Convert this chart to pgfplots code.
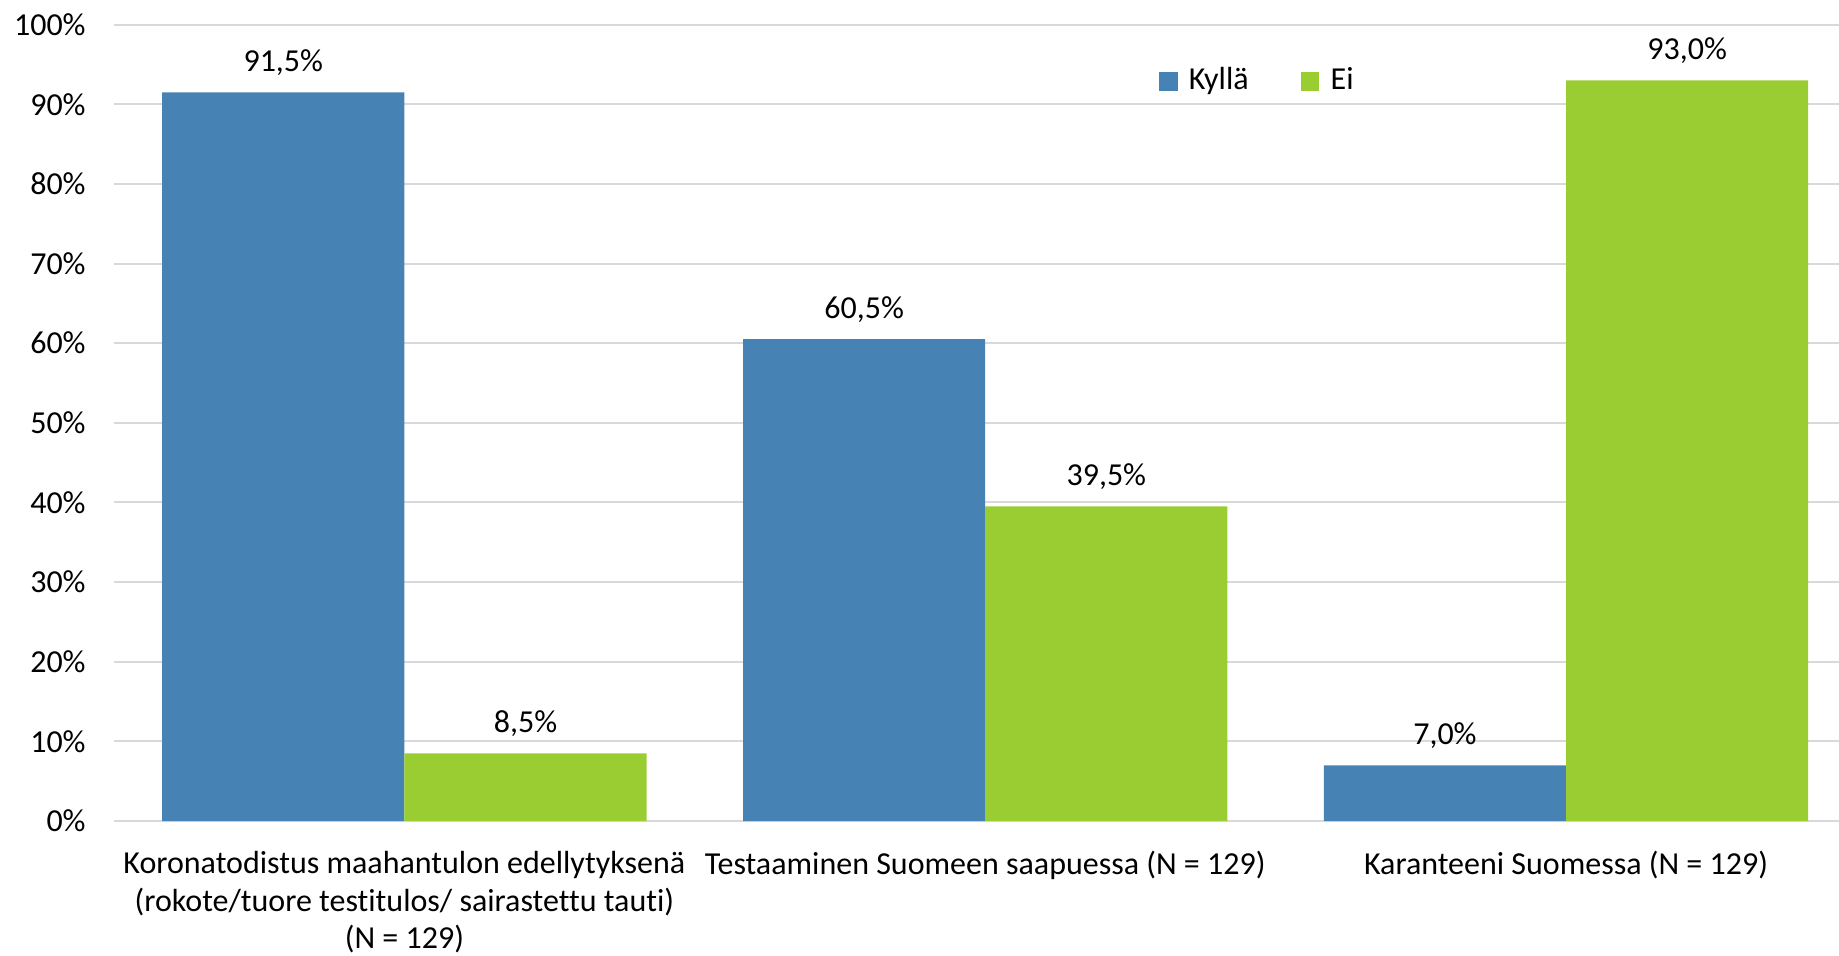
\documentclass[border=0pt]{standalone}
\usepackage{fontspec}
\setmainfont{Carlito}[Ligatures={NoCommon}]
\usepackage{pgfplots}
\pgfplotsset{compat=1.18}

\definecolor{kylla}{HTML}{4682B4}
\definecolor{ei}{HTML}{9ACD32}
\definecolor{gridgray}{HTML}{D9D9D9}

\begin{document}
\fontsize{16pt}{18.8pt}\selectfont
\begin{tikzpicture}
\begin{axis}[
  scale only axis,
  width=862.5pt, height=398.2pt,
  ybar=0pt, bar width=0.417,
  xmin=-0.5, xmax=2.47,
  ymin=0, ymax=100,
  xtick={0,1,2},
  xticklabels={{Koronatodistus maahantulon edellytyksenä\\(rokote/tuore testitulos/ sairastettu tauti)\\(N = 129)},
               {Testaaminen Suomeen saapuessa (N = 129)},
               {Karanteeni Suomessa (N = 129)}},
  ytick={0,10,...,100},
  yticklabel={\pgfmathprintnumber{\tick}\%},
  /pgf/number format/assume math mode=true,
  major tick length=0pt,
  axis lines*=left,
  y axis line style={draw=none},
  x axis line style={draw=gridgray, line width=1.2pt, -},
  ymajorgrids, grid style={gridgray, line width=1pt},
  yticklabel style={inner sep=0pt, xshift=-14pt, font=\fontsize{16pt}{18pt}\selectfont},
  xticklabel style={align=center, anchor=north, inner sep=0pt, yshift=-15pt,
                    font=\fontsize{16pt}{18.8pt}\selectfont},
  nodes near coords={\pgfmathprintnumber[fixed,fixed zerofill,precision=1,use comma]{\pgfplotspointmeta}\%},
  every node near coord/.append style={anchor=south, inner sep=0pt, yshift=8pt, text=black,
                    font=\fontsize{16pt}{18pt}\selectfont},
  legend columns=2,
  legend style={at={(0.602,0.929)}, anchor=west, draw=none, fill=none,
                font=\fontsize{16pt}{18pt}\selectfont,
                /tikz/every even column/.append style={column sep=24pt}},
  legend image code/.code={\fill[#1] (0pt,-4.7pt) rectangle (9.4pt,4.7pt); \path (13pt,0pt);},
]
\addplot[fill=kylla, draw=none] coordinates {(0,91.5) (1,60.5) (2,7.0)};
\addlegendentry{Kyllä}
\addplot[fill=ei, draw=none] coordinates {(0,8.5) (1,39.5) (2,93.0)};
\addlegendentry{Ei}
\end{axis}
\pgfresetboundingbox
\path[use as bounding box] (-57pt,-67pt) rectangle (862.5pt,410.5pt);
\end{tikzpicture}
\end{document}
